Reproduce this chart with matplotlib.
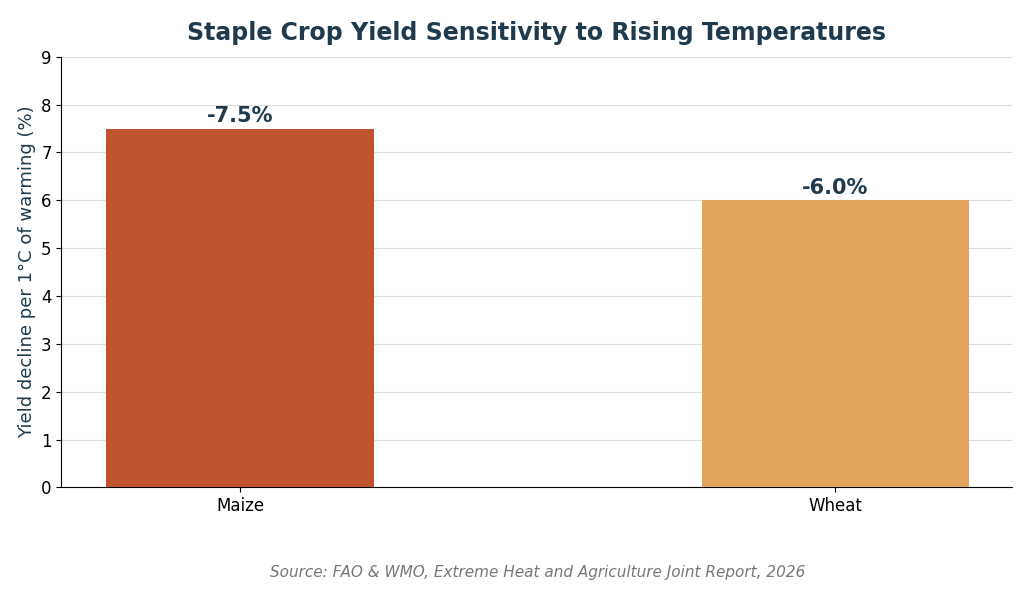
import matplotlib
matplotlib.use("Agg")
import matplotlib.pyplot as plt

crops = ["Maize", "Wheat"]
values = [7.5, 6.0]
labels = ["-7.5%", "-6.0%"]
colors = ["#C0522D", "#DFA45A"]

fig, ax = plt.subplots(figsize=(10.24, 5.98), dpi=100)
fig.subplots_adjust(left=0.06, right=0.988, top=0.905, bottom=0.185)
x = range(len(crops))
ax.bar(x, values, width=0.45, color=colors, zorder=3)
for i, (v, l) in enumerate(zip(values, labels)):
    ax.text(i, v + 0.05, l, ha="center", va="bottom", fontsize=15, fontweight="bold", color="#1F3A4D")
ax.set_xticks(list(x))
ax.set_xticklabels(crops, fontsize=12)
ax.set_ylim(0, 9)
ax.set_yticks(range(10))
ax.tick_params(axis="y", labelsize=12)
ax.set_xlim(-0.3, 1.296)
ax.grid(axis="y", color="#DDDDDD", zorder=0)
for s in ["top", "right"]:
    ax.spines[s].set_visible(False)
ax.set_ylabel("Yield decline per 1°C of warming (%)", fontsize=13, color="#1F3A4D")
ax.set_title("Staple Crop Yield Sensitivity to Rising Temperatures", fontsize=17, fontweight="bold", color="#1F3A4D", pad=12)
fig.text(0.525, 0.035, "Source: FAO & WMO, Extreme Heat and Agriculture Joint Report, 2026", ha="center", fontsize=11, style="italic", color="#777777")
fig.savefig("out.png")
